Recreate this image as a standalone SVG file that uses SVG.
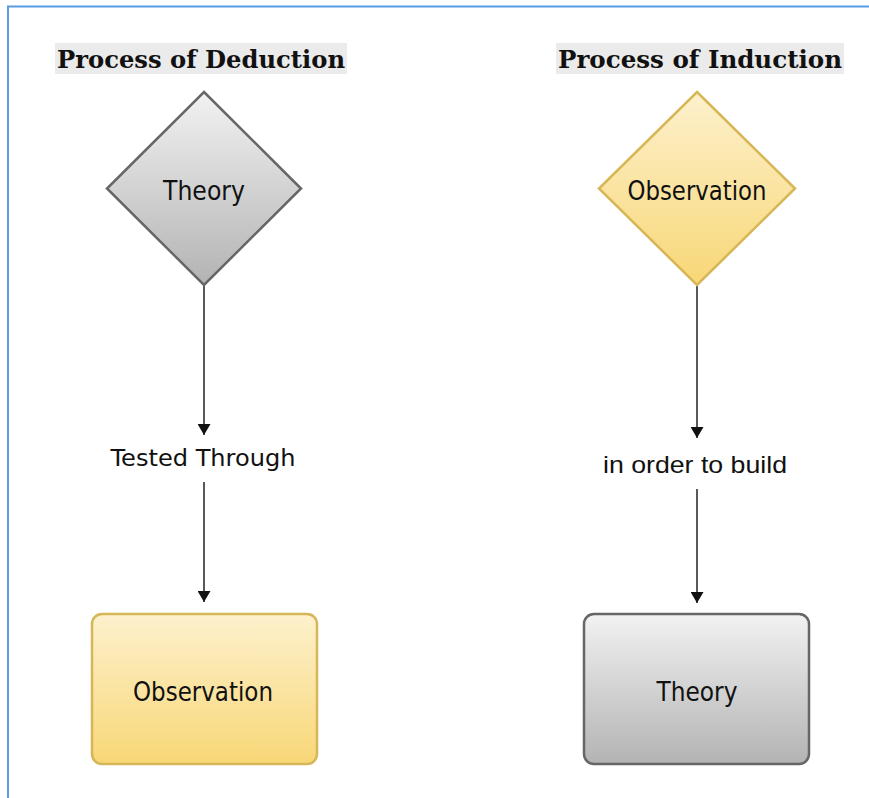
<svg xmlns="http://www.w3.org/2000/svg" width="869" height="798" viewBox="0 0 869 798">
  <style>
    .title { font-family: "DejaVu Serif", "Liberation Serif", serif; font-weight: bold; font-size: 24px; fill: #111; }
    .title-bg { fill: #ebebeb; }
    .label { font-family: "DejaVu Sans", "Liberation Sans", sans-serif; font-size: 26.5px; fill: #111; text-anchor: middle; }
    .edge-label { font-family: "Liberation Sans", Arial, sans-serif; font-size: 24px; fill: #111; text-anchor: middle; }
    .grey { fill: url(#gGrey); stroke: #666666; stroke-width: 2.5; }
    .gold { fill: url(#gGold); stroke: #d6b656; stroke-width: 2.5; }
    .edge { stroke: #222; stroke-width: 1.5; fill: none; marker-end: url(#arrow); }
  </style>
  <defs>
    <linearGradient id="gGrey" x1="0" y1="0" x2="0" y2="1">
      <stop offset="0" stop-color="#f2f2f2"/>
      <stop offset="1" stop-color="#b3b3b3"/>
    </linearGradient>
    <linearGradient id="gGold" x1="0" y1="0" x2="0" y2="1">
      <stop offset="0" stop-color="#fdf1cd"/>
      <stop offset="1" stop-color="#f8d777"/>
    </linearGradient>
    <marker id="arrow" viewBox="0 0 11 13" refX="11" refY="6.5" markerWidth="11" markerHeight="13" markerUnits="userSpaceOnUse" orient="auto">
      <path d="M0,0 L11,6.5 L0,13 Z" fill="#111"/>
    </marker>
  </defs>

  <rect width="869" height="798" fill="#ffffff"/>
  <!-- frame -->
  <path d="M8,798 V6.5 H869" fill="none" stroke="#5b9be6" stroke-width="2"/>

  <!-- headings -->
  <g id="title-deduction">
    <rect class="title-bg" x="55" y="43" width="292" height="31"/>
    <text class="title" x="57" y="68" textLength="288" lengthAdjust="spacingAndGlyphs">Process of Deduction</text>
  </g>
  <g id="title-induction">
    <rect class="title-bg" x="556" y="43" width="288" height="31"/>
    <text class="title" x="558" y="68" textLength="284" lengthAdjust="spacingAndGlyphs">Process of Induction</text>
  </g>

  <!-- connectors -->
  <g id="connectors">
    <line class="edge" x1="204" y1="286" x2="204" y2="435"/>
    <line class="edge" x1="204" y1="482" x2="204" y2="602"/>
    <line class="edge" x1="697" y1="286" x2="697" y2="438"/>
    <line class="edge" x1="697" y1="489" x2="697" y2="603"/>
    <text class="edge-label" x="203" y="466" style="font-family: 'DejaVu Sans', sans-serif; font-size: 23px;" textLength="185" lengthAdjust="spacingAndGlyphs">Tested Through</text>
    <text class="edge-label" x="695" y="473" textLength="184" lengthAdjust="spacingAndGlyphs">in order to build</text>
  </g>

  <!-- deduction nodes -->
  <g id="deduction-theory">
    <polygon class="grey" points="204,92 301,188.5 204,285 107,188.5"/>
    <text class="label" x="204" y="200" textLength="82" lengthAdjust="spacingAndGlyphs">Theory</text>
  </g>
  <g id="deduction-observation">
    <rect class="gold" x="92" y="614" width="225" height="150" rx="10"/>
    <text class="label" x="203" y="701" textLength="140" lengthAdjust="spacingAndGlyphs">Observation</text>
  </g>

  <!-- induction nodes -->
  <g id="induction-observation">
    <polygon class="gold" points="697,92 795,188.5 697,285 599,188.5"/>
    <text class="label" x="697" y="200" textLength="139" lengthAdjust="spacingAndGlyphs">Observation</text>
  </g>
  <g id="induction-theory">
    <rect class="grey" x="584" y="614" width="225" height="150" rx="10"/>
    <text class="label" x="697" y="701" textLength="81" lengthAdjust="spacingAndGlyphs">Theory</text>
  </g>
</svg>
